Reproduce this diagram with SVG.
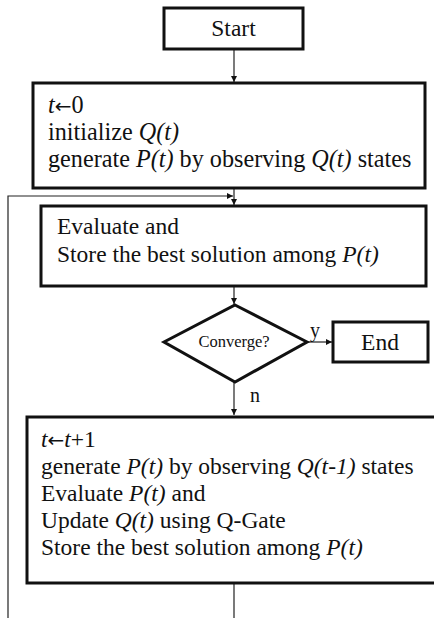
<svg xmlns="http://www.w3.org/2000/svg" width="434" height="618" viewBox="0 0 434 618">
<style>
.box{fill:#fff;stroke:#111;stroke-width:3}
.dia{fill:#fff;stroke:#111;stroke-width:3;stroke-linejoin:miter}
.con{fill:none;stroke:#222;stroke-width:1.2}
text{font-family:"Liberation Serif","Times New Roman",serif;fill:#111}
.t{font-size:23.5px}
.tb{font-size:24.2px}
.s{font-size:16.5px}
.l{font-size:20px}
.i{font-style:italic}
.ar{font-family:"DejaVu Sans",sans-serif;font-size:20px}
</style>
<defs>
<marker id="ah" viewBox="0 0 8 8" refX="8" refY="4" markerWidth="6" markerHeight="6" markerUnits="userSpaceOnUse" orient="auto">
<path d="M0 0 L8 4 L0 8 z" fill="#111"/>
</marker>
</defs>
<rect width="434" height="618" fill="#fff"/>
<g id="connectors">
<line class="con" x1="234" y1="49" x2="234" y2="82" marker-end="url(#ah)"/>
<line class="con" x1="234" y1="188" x2="234" y2="205" marker-end="url(#ah)"/>
<path class="con" d="M234 584 V630 H8 V196 H233" marker-end="url(#ah)"/>
<line class="con" x1="234" y1="287" x2="234" y2="304" marker-end="url(#ah)"/>
<line class="con" x1="307" y1="342" x2="332" y2="342" marker-end="url(#ah)"/>
<line class="con" x1="234" y1="382" x2="234" y2="415" marker-end="url(#ah)"/>
<text class="l" x="310" y="337">y</text>
<text class="l" x="250" y="402">n</text>
</g>
<g id="start">
<rect class="box" x="164" y="8" width="139" height="41" stroke-width="2.5"/>
<text class="t" x="233.5" y="36" text-anchor="middle">Start</text>
</g>
<g id="init">
<rect class="box" x="33" y="83" width="392" height="105"/>
<text class="tb" x="48" y="113"><tspan class="i">t</tspan><tspan class="ar">←</tspan>0</text>
<text class="tb" x="48" y="140">initialize <tspan class="i">Q(t)</tspan></text>
<text class="tb" x="48" y="167">generate <tspan class="i">P(t)</tspan> by observing <tspan class="i">Q(t)</tspan> states</text>
</g>
<g id="evaluate">
<rect class="box" x="41" y="206" width="385" height="80"/>
<text class="t" x="57" y="234">Evaluate and</text>
<text class="t" x="57" y="262">Store the best solution among <tspan class="i">P(t)</tspan></text>
</g>
<g id="converge">
<polygon class="dia" points="235,305 307,342 235,382 164,342"/>
<text class="s" x="234" y="347" text-anchor="middle">Converge?</text>
</g>
<g id="end">
<rect class="box" x="333" y="322" width="95" height="40" stroke-width="2.5"/>
<text class="t" x="380" y="350" text-anchor="middle">End</text>
</g>
<g id="loop">
<rect class="box" x="27" y="417" width="420" height="166"/>
<text class="t" x="41" y="447"><tspan class="i">t</tspan><tspan class="ar">←</tspan><tspan class="i">t</tspan>+1</text>
<text class="t" x="41" y="474">generate <tspan class="i">P(t)</tspan> by observing <tspan class="i">Q(t-1)</tspan> states</text>
<text class="t" x="41" y="501">Evaluate <tspan class="i">P(t)</tspan> and</text>
<text class="t" x="41" y="528">Update <tspan class="i">Q(t)</tspan> using Q-Gate</text>
<text class="t" x="41" y="555">Store the best solution among <tspan class="i">P(t)</tspan></text>
</g>
</svg>
